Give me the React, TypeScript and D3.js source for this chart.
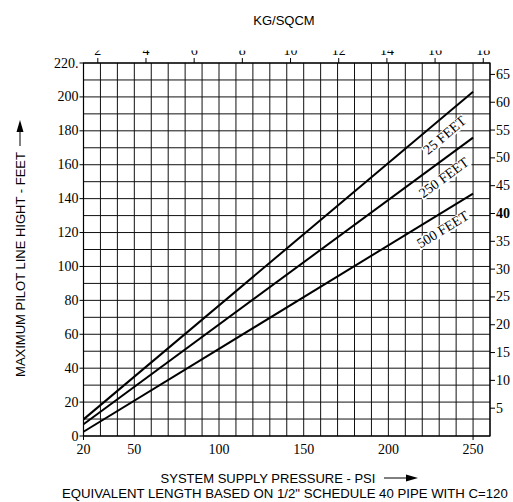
import React from "react";
import * as d3 from "d3";

// ---- data ----
const pressurePsi = [20, 250];
const height25ft = [9.8, 203];
const height250ft = [6.9, 176];
const height500ft = [2.5, 143];
const seriesLabels = ["25 FEET", "250 FEET", "500 FEET"];

const leftTicks = [0, 20, 40, 60, 80, 100, 120, 140, 160, 180, 200, 220];
const bottomTicks = [20, 50, 100, 150, 200, 250];
const topTicksKg = [2, 4, 6, 8, 10, 12, 14, 16, 18];
const rightTicksM = [5, 10, 15, 20, 25, 30, 35, 40, 45, 50, 55, 60, 65];

const W = 513;
const H = 502;
const SERIF = "'Liberation Serif', 'Times New Roman', serif";
const SANS = "'Liberation Sans', Arial, sans-serif";

export default function App() {
  const x = d3.scaleLinear().domain([20, 260]).range([83.5, 490]);
  const y = d3.scaleLinear().domain([0, 220]).range([436, 63]);
  const vGrid = d3.range(20, 261, 10);
  const hGrid = d3.range(0, 221, 10);
  const PSI_PER_KG = 1 / 0.070307;
  const FT_PER_M = 3.28084;

  const series = [height25ft, height250ft, height500ft].map((vals, i) => ({
    label: seriesLabels[i],
    pts: pressurePsi.map((p, j) => [p, vals[j]] as [number, number]),
  }));
  const line = d3
    .line<[number, number]>()
    .x((d) => x(d[0]))
    .y((d) => y(d[1]));

  const labelPx = 435;

  return (
    <svg
      width={W}
      height={H}
      style={{ position: "absolute", left: 0, top: 0, background: "#fff" }}
    >
      <defs>
        <clipPath id="topclip">
          <rect x={0} y={50.5} width={W} height={20} />
        </clipPath>
      </defs>
      <rect x={0} y={0} width={W} height={H} fill="#fff" />
      {/* grid */}
      {vGrid.map((v) => (
        <line key={"v" + v} x1={x(v)} x2={x(v)} y1={y(0)} y2={y(220)} stroke="#111" strokeWidth={1} />
      ))}
      {hGrid.map((v) => (
        <line key={"h" + v} x1={x(20)} x2={x(260)} y1={y(v)} y2={y(v)} stroke="#111" strokeWidth={1} />
      ))}
      <rect x={x(20)} y={y(220)} width={x(260) - x(20)} height={y(0) - y(220)} fill="none" stroke="#000" strokeWidth={1.2} />

      {/* left axis */}
      {leftTicks.map((t) => (
        <g key={"l" + t}>
          <line x1={x(20) - 4} x2={x(20)} y1={y(t)} y2={y(t)} stroke="#000" />
          <text x={x(20) - 5} y={y(t) + 4.5} textAnchor="end" fontFamily={SERIF} fontSize={14}>
            {t === 220 ? "220." : t}
          </text>
        </g>
      ))}

      {/* bottom axis */}
      {bottomTicks.map((t, i) => (
        <g key={"b" + t}>
          {(i === 0 || i === bottomTicks.length - 1) && (
            <line x1={x(t)} x2={x(t)} y1={y(0)} y2={y(0) + 4} stroke="#000" />
          )}
          <text x={x(t)} y={454} textAnchor="middle" fontFamily={SERIF} fontSize={14}>
            {t}
          </text>
        </g>
      ))}

      {/* top axis (kg/cm2) */}
      {topTicksKg.map((k) => (
        <g key={"t" + k}>
          <line x1={x(k * PSI_PER_KG)} x2={x(k * PSI_PER_KG)} y1={y(220) - 5} y2={y(220)} stroke="#000" />
          <text
            x={x(k * PSI_PER_KG)}
            y={55}
            textAnchor="middle"
            fontFamily={SERIF}
            fontSize={14}
            clipPath="url(#topclip)"
          >
            {k}
          </text>
        </g>
      ))}

      {/* right axis (metres) */}
      {rightTicksM.map((m) => (
        <g key={"r" + m}>
          <line x1={x(260)} x2={x(260) + 5} y1={y(m * FT_PER_M)} y2={y(m * FT_PER_M)} stroke="#000" />
          <text
            x={x(260) + 6}
            y={y(m * FT_PER_M) + 4.5}
            fontFamily={SERIF}
            fontSize={14}
            fontWeight={m === 40 ? "bold" : "normal"}
          >
            {m}
          </text>
        </g>
      ))}

      {/* curves */}
      {series.map((s) => (
        <path key={s.label} d={line(s.pts) || ""} fill="none" stroke="#000" strokeWidth={2} />
      ))}

      {/* curve labels */}
      {series.map((s) => {
        const [p0, p1] = s.pts;
        const x0 = x(p0[0]), y0 = y(p0[1]), x1 = x(p1[0]), y1 = y(p1[1]);
        const ly = y0 + ((labelPx - x0) * (y1 - y0)) / (x1 - x0);
        const ang = (Math.atan2(y1 - y0, x1 - x0) * 180) / Math.PI;
        const tw = s.label.length * 7.0;
        return (
          <g key={"lab" + s.label} transform={`translate(${labelPx},${ly}) rotate(${ang}) translate(0,14.5)`}>
            <rect x={-tw / 2 - 2} y={-5} width={tw + 4} height={12} fill="#fff" />
            <text y={5} textAnchor="middle" fontFamily={SERIF} fontSize={14}>
              {s.label}
            </text>
          </g>
        );
      })}

      {/* titles */}
      <text x={284} y={25} textAnchor="middle" fontFamily={SANS} fontSize={13}>
        KG/SQCM
      </text>
      <text x={268} y={483} textAnchor="middle" fontFamily={SANS} fontSize={13}>
        SYSTEM SUPPLY PRESSURE - PSI
      </text>
      <line x1={384} x2={410} y1={478} y2={478} stroke="#000" strokeWidth={1} />
      <path d="M406,474.5 L418,478 L406,481.5 Z" fill="#000" />
      <text x={62} y={498} fontFamily={SANS} fontSize={13.2}>
        EQUIVALENT LENGTH BASED ON 1/2" SCHEDULE 40 PIPE WITH C=120
      </text>

      <text
        transform="translate(25,264.5) rotate(-90)"
        textAnchor="middle"
        fontFamily={SANS}
        fontSize={13}
      >
        MAXIMUM PILOT LINE HIGHT - FEET
      </text>
      <line x1={20} x2={20} y1={146} y2={128} stroke="#000" strokeWidth={1} />
      <path d="M16.5,132 L20,120 L23.5,132 Z" fill="#000" />
    </svg>
  );
}
